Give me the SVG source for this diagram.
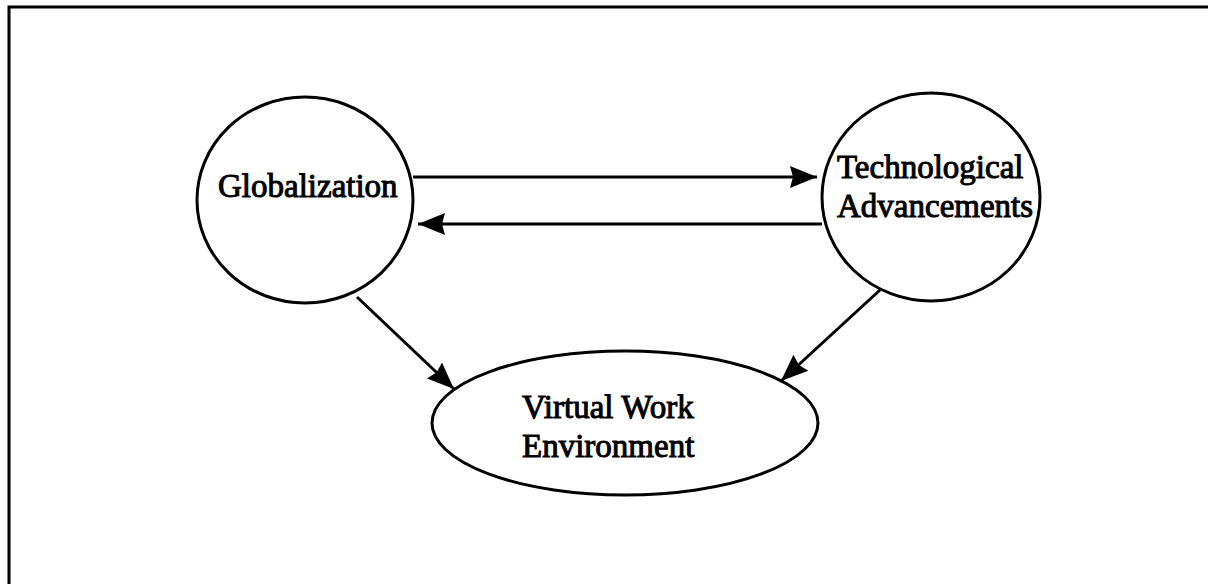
<svg xmlns="http://www.w3.org/2000/svg" width="1208" height="584" viewBox="0 0 1208 584">
  <style>
    .shape { fill: #fff; stroke: #000; stroke-width: 3; }
    .edge { fill: none; stroke: #000; stroke-width: 3; }
    .label { font-family: "Liberation Serif", "Times New Roman", serif; font-size: 33px; fill: #000; stroke: #000; stroke-width: 1; }
  </style>
  <defs>
    <marker id="head" markerUnits="userSpaceOnUse" markerWidth="28" markerHeight="24" refX="27" refY="12" orient="auto">
      <path d="M0,1 L27,12 L0,23 L3,12 Z" fill="#000"/>
    </marker>
  </defs>

  <rect width="1208" height="584" fill="#fff"/>

  <!-- outer frame (top and left edges) -->
  <path class="edge" d="M9,584 L9,7 L1208,7"/>

  <g id="connectors">
    <line class="edge" x1="413" y1="177" x2="817" y2="177" marker-end="url(#head)"/>
    <line class="edge" x1="822" y1="224" x2="418" y2="224" marker-end="url(#head)"/>
    <line class="edge" x1="357" y1="297" x2="454" y2="389" marker-end="url(#head)"/>
    <line class="edge" x1="880" y1="290" x2="781" y2="381" marker-end="url(#head)"/>
  </g>

  <g id="globalization">
    <ellipse class="shape" cx="305" cy="200" rx="108" ry="103"/>
    <text class="label" x="218" y="197">Globalization</text>
  </g>

  <g id="technological-advancements">
    <ellipse class="shape" cx="931" cy="197" rx="109" ry="104"/>
    <text class="label" x="837" y="178">Technological</text>
    <text class="label" x="837" y="217">Advancements</text>
  </g>

  <g id="virtual-work-environment">
    <ellipse class="shape" cx="625" cy="423" rx="193" ry="72"/>
    <text class="label" x="522" y="418">Virtual Work</text>
    <text class="label" x="522" y="457">Environment</text>
  </g>
</svg>
